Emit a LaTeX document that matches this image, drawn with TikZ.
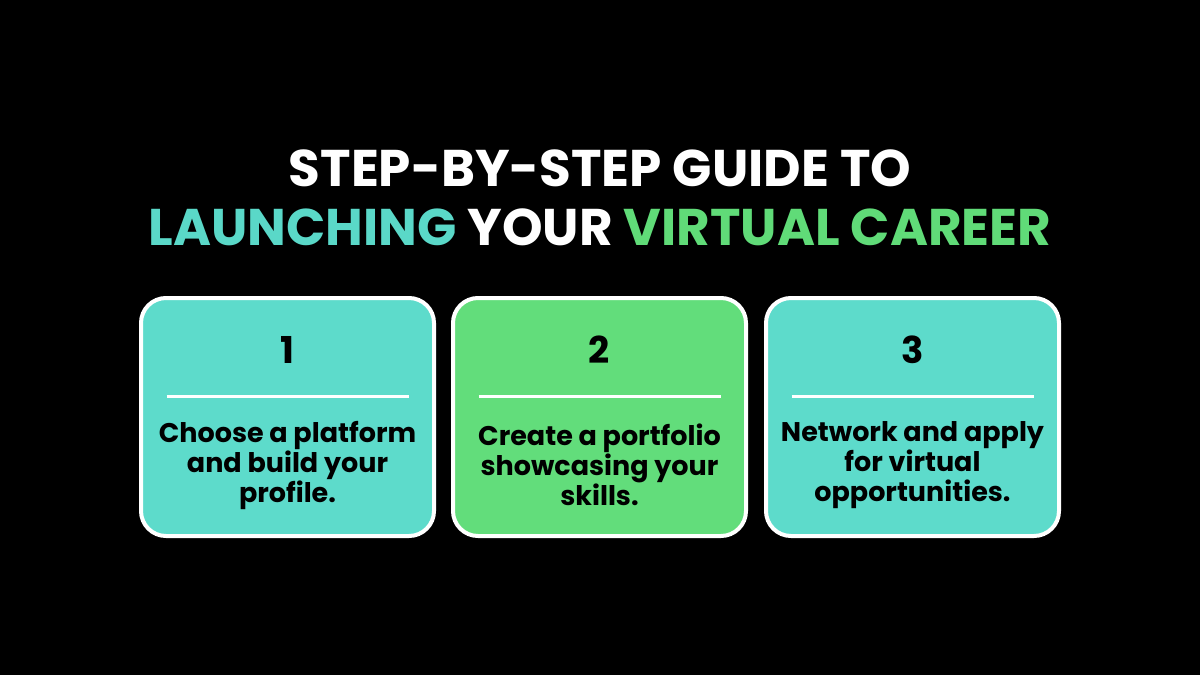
\documentclass[tikz,border=0pt]{standalone}
\usepackage{fontspec}
\setmainfont{Poppins}
\definecolor{tealbox}{HTML}{5DDBCB}
\definecolor{greenbox}{HTML}{62DD7B}
\definecolor{tealtext}{HTML}{5AD8C8}
\definecolor{greentext}{HTML}{60DB78}
\tikzset{
  card/.style={draw=white, line width=2pt, rounded corners=12.5pt, minimum width=146.5pt, minimum height=119pt, inner sep=0pt},
  stepnum/.style={font=\bfseries\fontsize{18.5}{18.5}\selectfont, text=black},
  steptext/.style={font=\bfseries\fontsize{13.5}{15}\selectfont, text=black, align=center},
  titletext/.style={font=\bfseries\fontsize{25.8}{25.8}\selectfont, text=white}
}
\begin{document}
\begin{tikzpicture}[x=0.5pt,y=-0.5pt]
            \fill[black] (0,0) rectangle (1200,675);
            \useasboundingbox (0,0) rectangle (1200,675);
            \node[titletext] (title1) at (600,168) {STEP-BY-STEP GUIDE TO};
            \node[titletext] (title2) at (600,227) {\textcolor{tealtext}{LAUNCHING} YOUR \textcolor{greentext}{VIRTUAL CAREER}};
            \foreach \i/\cx/\fillc/\txt in {1/287.5/tealbox/{Choose a platform\\and build your\\profile.},
                                            2/599.5/greenbox/{Create a portfolio\\showcasing your\\skills.},
                                            3/912.5/tealbox/{Network and apply\\for virtual\\opportunities.}} {
                \node[card, fill=\fillc] (card\i) at (\cx,417) {};
                \node[stepnum] (num\i) at (\cx,350) {\i};
                \coordinate (ruleL\i) at (\cx-121,396);
                \coordinate (ruleR\i) at (\cx+121,396);
                \draw[white, line width=1.5pt] (ruleL\i) -- (ruleR\i);
                \node[steptext] (desc\i) at (\cx,465) {\txt};
            }
        \end{tikzpicture}
\end{document}
